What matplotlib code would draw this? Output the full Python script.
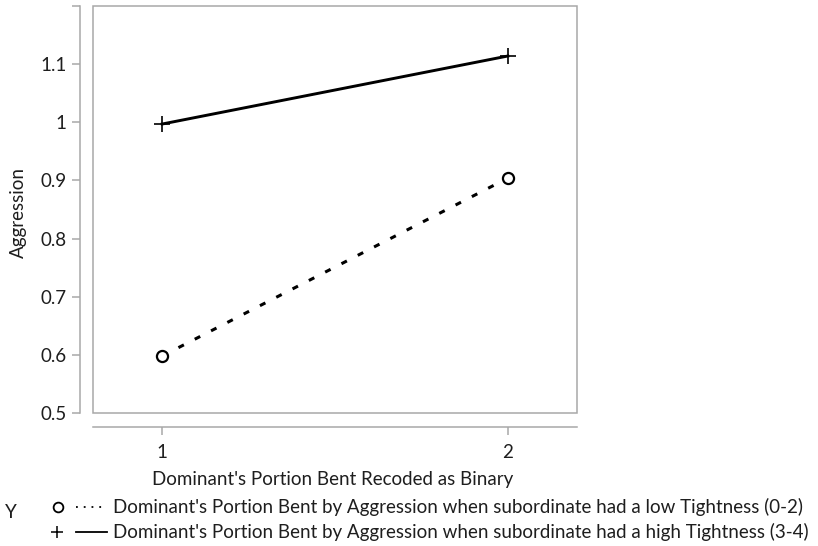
import matplotlib
matplotlib.use("Agg")
import matplotlib.pyplot as plt
from matplotlib.lines import Line2D
from matplotlib.patches import Rectangle

# data
x_vals = [1, 2]
low_tight = [0.598, 0.904]
high_tight = [0.997, 1.114]
y_ticks = [0.5, 0.6, 0.7, 0.8, 0.9, 1.0, 1.1, 1.2]
y_tick_labels = ["0.5", "0.6", "0.7", "0.8", "0.9", "1", "1.1", ""]
x_ticks = [1, 2]
legend_title = "Y"
legend_labels = [
    "Dominant's Portion Bent by Aggression when subordinate had a low Tightness (0-2)",
    "Dominant's Portion Bent by Aggression when subordinate had a high Tightness (3-4)",
]

plt.rcParams['font.family'] = ['Lato', 'DejaVu Sans']
grey = '#a8a8a8'
txt = '#1e1e1e'
fs = 13.5

fig = plt.figure(figsize=(8.18, 5.46), dpi=100)
ax = fig.add_axes([93/818, 1 - 413/546, (577-93)/818, (413-6)/546])

ax.plot(x_vals, low_tight, color='black', lw=2.2, linestyle=(0, (2.0, 4.0)),
        marker='o', markersize=8, markerfacecolor='white', markeredgewidth=1.6)
ax.plot(x_vals, high_tight, color='black', lw=2.1, linestyle='-',
        marker='+', markersize=11, markeredgewidth=1.2)

ax.set_xlim(0.8, 2.2)
ax.set_ylim(0.5, 1.2)
ax.set_yticks(y_ticks)
ax.set_yticklabels(y_tick_labels)
ax.set_xticks(x_ticks)

for side in ['top', 'right']:
    ax.spines[side].set_visible(False)
ax.spines['left'].set_position(('outward', 9.5))
ax.spines['bottom'].set_position(('outward', 9.8))
for side in ['left', 'bottom']:
    ax.spines[side].set_color(grey)
    ax.spines[side].set_linewidth(1.1)

ax.add_patch(Rectangle((0, 0), 1, 1, transform=ax.transAxes, fill=False,
                       edgecolor=grey, lw=1.1, clip_on=False))

ax.tick_params(axis='both', colors=grey, labelcolor=txt, labelsize=fs,
               length=6, width=1.1)
ax.tick_params(axis='y', pad=3.5)
ax.tick_params(axis='x', pad=6.5)

ax.set_ylabel('Aggression', fontsize=fs, color=txt, va='center')
ax.yaxis.set_label_coords((18 - 93) / 484, (413 - 213) / 407)
ax.set_xlabel("Dominant's Portion Bent Recoded as Binary", fontsize=fs,
              color=txt, va='baseline')
ax.xaxis.set_label_coords((333 - 93) / 484, (413 - 485) / 407)

# legend drawn in figure pixels
def fx(px):
    return px / 818

def fy(py):
    return 1 - py / 546

fig.text(fx(5), fy(518), legend_title, fontsize=fs, color=txt, va='baseline')
fig.add_artist(Line2D([fx(58)], [fy(507)], marker='o', markersize=7,
                      markerfacecolor='white', markeredgecolor='black',
                      markeredgewidth=1.3, transform=fig.transFigure))
fig.add_artist(Line2D([fx(76), fx(107)], [fy(507)] * 2, color='black',
                      lw=1.3, linestyle=(0, (1, 3.3)), transform=fig.transFigure))
fig.add_artist(Line2D([fx(57)], [fy(532)], marker='+', markersize=8,
                      color='black', markeredgewidth=1.1,
                      transform=fig.transFigure))
fig.add_artist(Line2D([fx(76), fx(107)], [fy(532)] * 2, color='black',
                      lw=1.3, transform=fig.transFigure))
for base, lab in zip([513, 538], legend_labels):
    fig.text(fx(113), fy(base), lab, fontsize=fs, color=txt, va='baseline')

fig.savefig('out.png', dpi=100)
